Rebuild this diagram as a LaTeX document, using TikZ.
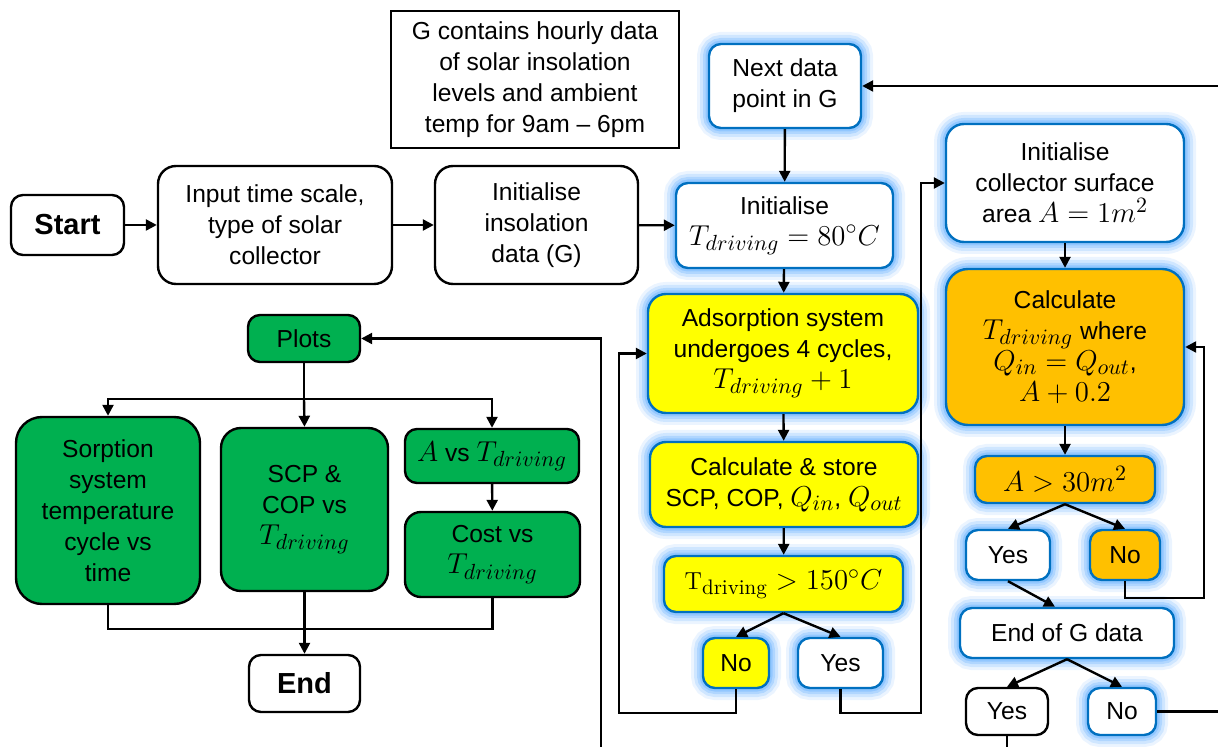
\documentclass[tikz,border=0pt]{standalone}
\usepackage{amsmath}
\usepackage{fontspec}
\setmainfont{Liberation Sans}
\newfontfamily\lmr{Latin Modern Roman}
\DeclareMathSizes{12.3}{14}{10.5}{8}
\usetikzlibrary{arrows.meta,calc}
\definecolor{bl}{RGB}{0,112,192}
\definecolor{glw}{RGB}{110,180,255}
\definecolor{yel}{RGB}{255,255,0}
\definecolor{org}{RGB}{255,192,0}
\definecolor{grn}{RGB}{0,176,80}
\tikzset{
  base/.style={draw=black, line width=1.2pt, rounded corners=6pt, align=center, inner sep=0pt,
    font=\fontsize{12.3}{15.5}\selectfont, fill=white},
  bbox/.style={base, draw=bl,
    preaction={draw=glw, draw opacity=0.14, line width=12pt},
    preaction={draw=glw, draw opacity=0.22, line width=9pt},
    preaction={draw=glw, draw opacity=0.32, line width=6pt},
    preaction={draw=glw, draw opacity=0.45, line width=3.5pt}},
  ybox/.style={bbox, fill=yel},
  obox/.style={bbox, fill=org},
  gbox/.style={base, fill=grn},
  ln/.style={line width=1.2pt, draw=black},
  arr/.style={ln, -{Triangle[length=5.5pt,width=5.5pt]}},
}
\newcommand{\Td}{T_{driving}}
\begin{document}
\begin{tikzpicture}[x=0.5pt,y=-0.5pt]
\useasboundingbox (0,0) rectangle (1218,747);
% top row
\node[base, minimum width=56.5pt, minimum height=30pt, font=\fontsize{14.5}{17}\selectfont\bfseries] (start) at (67.5,225) {Start};
\node[base, rounded corners=9pt, minimum width=117pt, minimum height=59pt] (input) at (275,225) {Input time scale,\\type of solar\\collector};
\node[base, rounded corners=9pt, minimum width=101.5pt, minimum height=59pt] (initins) at (536.5,225) {Initialise\\insolation\\data (G)};
\node[base, rounded corners=0pt, minimum width=144pt, minimum height=68.5pt] (gnote) at (535,79.5) {G contains hourly data\\of solar insolation\\levels and ambient\\temp for 9am -- 6pm};
% middle column
\node[bbox, minimum width=76pt, minimum height=42pt] (next) at (785,86) {Next data\\point in G};
\node[bbox, minimum width=108.5pt, minimum height=42.5pt] (initT) at (784.5,225.5) {Initialise\\$\Td = 80{}^{\circ}C$};
\node[ybox, rounded corners=9pt, minimum width=135pt, minimum height=59.5pt] (ads) at (783,353.5) {Adsorption system\\undergoes 4 cycles,\\$\Td + 1$};
\node[ybox, rounded corners=8pt, minimum width=134pt, minimum height=42.5pt] (calcs) at (784,484.5) {Calculate \& store\\SCP, COP, $Q_{in}$, $Q_{out}$};
\node[ybox, minimum width=119.5pt, minimum height=28pt] (tgt) at (783.5,584) {$\text{\lmr T}_{\text{\lmr driving}} > 150{}^{\circ}C$};
\node[ybox, minimum width=33pt, minimum height=25pt] (no1) at (736,663) {No};
\node[bbox, minimum width=42.5pt, minimum height=25pt] (yes1) at (840.5,663) {Yes};
% right column
\node[bbox, rounded corners=9pt, minimum width=119pt, minimum height=59pt] (initA) at (1065,183) {Initialise\\collector surface\\area $A = 1m^2$};
\node[obox, rounded corners=11pt, minimum width=119pt, minimum height=78pt] (calcT) at (1065,347) {Calculate\\$\Td$ where\\$Q_{in} = Q_{out}$,\\$A + 0.2$};
\node[obox, minimum width=90pt, minimum height=23.5pt] (agt) at (1065,479.5) {$A > 30m^2$};
\node[bbox, minimum width=42pt, minimum height=25pt] (yes2) at (1008,555) {Yes};
\node[obox, minimum width=35pt, minimum height=25pt] (no2) at (1125,555) {No};
\node[bbox, minimum width=107pt, minimum height=25pt] (endG) at (1067,633) {End of G data};
\node[base, minimum width=41pt, minimum height=23.5pt] (yes3) at (1007,711.5) {Yes};
\node[bbox, minimum width=34pt, minimum height=23.5pt] (no3) at (1122,711.5) {No};
% left: plots
\node[gbox, minimum width=56pt, minimum height=23.5pt] (plots) at (304,338.5) {Plots};
\node[gbox, rounded corners=13pt, minimum width=92pt, minimum height=93.5pt] (sorp) at (108,510.5) {Sorption\\system\\temperature\\cycle vs\\time};
\node[gbox, rounded corners=10pt, minimum width=83.5pt, minimum height=81.5pt] (scp) at (304.5,509.5) {SCP \&\\COP vs\\$\Td$};
\node[gbox, minimum width=87pt, minimum height=27pt] (avs) at (492,456) {$A$ vs $\Td$};
\node[gbox, rounded corners=8pt, minimum width=87.5pt, minimum height=42.5pt] (cost) at (492.5,554.5) {Cost vs\\$\Td$};
\node[base, minimum width=55.5pt, minimum height=28.5pt, font=\fontsize{14.5}{17}\selectfont\bfseries] (end) at (304.5,683.5) {End};
% connectors
\draw[arr] (start) -- (input);
\draw[arr] (input) -- (initins);
\draw[arr] (initins) -- (initT);
\draw[arr] (next) -- (initT);
\draw[arr] (initT) -- (ads);
\draw[arr] (ads) -- (calcs);
\draw[arr] (calcs) -- (tgt);
\draw[arr] (tgt.south) -- (no1.north);
\draw[arr] (tgt.south) -- (yes1.north);
\draw[arr] (no1.south) -- ++(0,24) -| ($(ads.west)+(-28,0)$) -- (ads.west);
\draw[arr] (yes1.south) -- ++(0,24) -| ($(initA.west)+(-24,0)$) -- (initA.west);
\draw[arr] (initA) -- (calcT);
\draw[arr] (calcT) -- (agt);
\draw[arr] (agt.south) -- (yes2.north);
\draw[arr] (agt.south) -- (no2.north);
\draw[arr] (no2.south) -- ++(0,17) -| ($(calcT.east)+(19,0)$) -- (calcT.east);
\draw[arr] (yes2.south) -- ($(endG.north)+(-12,0)$);
\draw[arr] (endG.south) -- (yes3.north);
\draw[arr] (endG.south) -- (no3.north);
\draw[arr] (no3.east) -- ++(90,0) |- (next.east);
\draw[arr] (yes3.south) -- ++(0,13) -| ($(plots.east)+(240,0)$) -- (plots.east);
\draw[ln] (plots.south) -- ++(0,36) coordinate (split);
\draw[arr] (split) -| (sorp.north);
\draw[arr] (split) -- (scp.north);
\draw[arr] (split) -| (avs.north);
\draw[arr] (avs) -- (cost);
\draw[ln] (sorp.south) -- ++(0,24) -| (cost.south);
\draw[arr] (scp) -- (end);
\end{tikzpicture}
\end{document}
